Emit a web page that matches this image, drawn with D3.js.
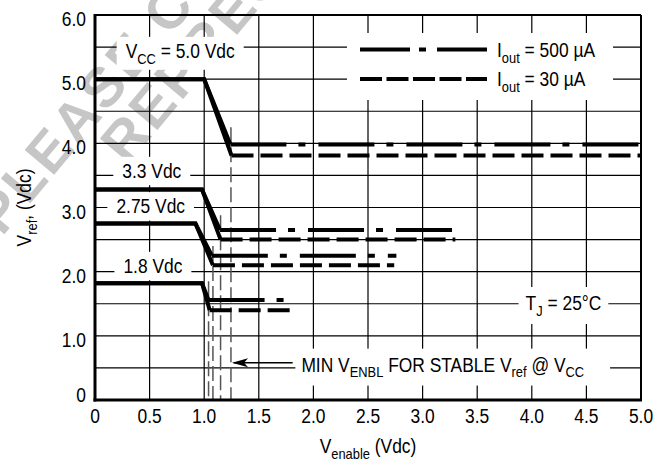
<!DOCTYPE html>
<html>
<head>
<meta charset="utf-8">
<script src="https://cdn.jsdelivr.net/npm/d3@7"></script>
<style>
  html, body { margin: 0; padding: 0; background: #fff; }
  svg { display: block; }
</style>
</head>
<body>
<div id="chart"></div>
<script>
const WIDTH = 655;
const HEIGHT = 462;
const FONT = '"Liberation Sans", Arial, sans-serif';
const SX = 0.87; // condensed look
const FS = 20;

// tick labels
const xTicks = [0, 0.5, 1.0, 1.5, 2.0, 2.5, 3.0, 3.5, 4.0, 4.5, 5.0];
const xTickLabels = ['0', '0.5', '1.0', '1.5', '2.0', '2.5', '3.0', '3.5', '4.0', '4.5', '5.0'];
const yTicks = [0, 1, 2, 3, 4, 5, 6];
const yTickLabels = ['0', '1.0', '2.0', '3.0', '4.0', '5.0', '6.0'];

// curves: [Venable, Vref]
const vcc50_500 = [[0, 5.0], [1.0, 5.0], [1.24, 3.98], [5.0, 3.98]];
const vcc50_30 = [[0, 5.0], [1.0, 5.0], [1.25, 3.81], [5.0, 3.81]];
const vcc33_500 = [[0, 3.28], [0.98, 3.28], [1.145, 2.65], [3.27, 2.65]];
const vcc33_30 = [[0, 3.28], [0.98, 3.28], [1.15, 2.5], [3.3, 2.5]];
const vcc275_500 = [[0, 2.75], [0.92, 2.75], [1.07, 2.25], [2.76, 2.25]];
const vcc275_30 = [[0, 2.75], [0.92, 2.75], [1.08, 2.1], [2.74, 2.1]];
const vcc18_500 = [[0, 1.82], [0.98, 1.82], [1.04, 1.56], [1.76, 1.56]];
const vcc18_30 = [[0, 1.82], [0.98, 1.82], [1.05, 1.4], [1.79, 1.4]];

const curves500 = [vcc50_500, vcc33_500, vcc275_500, vcc18_500];
const curves30 = [vcc50_30, vcc33_30, vcc275_30, vcc18_30];

// minimum enable markers (gray dashed verticals)
const minEnableX = [1.04, 1.08, 1.15, 1.245];
const minEnableTop = [1.85, 2.4, 2.88, 4.25];

const vccLabels = [
  [{ t: 'V' }, { t: 'CC', sub: true }, { t: ' = 5.0 Vdc' }],
  [{ t: '3.3 Vdc' }],
  [{ t: '2.75 Vdc' }],
  [{ t: '1.8 Vdc' }],
];
const vccLabelX = [0.78, 0.52, 0.51, 0.53];
const vccLabelY = [5.33, 3.46, 2.91, 1.98];

const legendLabels = [
  [{ t: 'I' }, { t: 'out', sub: true }, { t: ' = 500 \u00b5A' }],
  [{ t: 'I' }, { t: 'out', sub: true }, { t: ' = 30 \u00b5A' }],
];

const margin = { left: 95, right: 14, top: 15, bottom: 62 };

const x = d3.scaleLinear().domain([0, 5]).range([margin.left, WIDTH - margin.right]);
const y = d3.scaleLinear().domain([0, 6]).range([HEIGHT - margin.bottom, margin.top]);

const svg = d3.select('#chart')
  .append('svg')
  .attr('width', WIDTH)
  .attr('height', HEIGHT)
  .attr('font-family', FONT);

svg.append('rect').attr('width', WIDTH).attr('height', HEIGHT).attr('fill', '#fff');

// watermark
const wm = svg.append('g').attr('fill', '#c6c6c6')
  .attr('font-weight', 'bold').attr('font-size', 56).attr('letter-spacing', 3);
wm.append('text').attr('transform', 'translate(2,237) rotate(-50)').text('PLEASE CONTACT');
wm.append('text').attr('transform', 'translate(127,166) rotate(-50)').text('REPRESENTATIVE');

// grid
const grid = svg.append('g').attr('stroke', '#000').attr('stroke-width', 1.2);
grid.selectAll('line.v')
  .data(d3.range(0.5, 5, 0.5))
  .join('line')
  .attr('class', 'v')
  .attr('x1', d => x(d)).attr('x2', d => x(d))
  .attr('y1', y(0)).attr('y2', y(6));
grid.selectAll('line.h')
  .data(d3.range(0.5, 6, 0.5))
  .join('line')
  .attr('class', 'h')
  .attr('x1', x(0)).attr('x2', x(5))
  .attr('y1', d => y(d)).attr('y2', d => y(d));

// text with subscripts, squeezed horizontally
function richText(parent, px, py, parts, size, anchor, extra) {
  const g = parent.append('g')
    .attr('transform', `translate(${px},${py})${extra || ''} scale(${SX},1)`);
  const t = g.append('text')
    .attr('font-size', size)
    .attr('text-anchor', anchor || 'start');
  let shift = 0;
  parts.forEach(p => {
    const target = p.sub ? size * 0.28 : 0;
    const span = t.append('tspan').attr('dy', target - shift).text(p.t);
    if (p.sub) span.attr('font-size', size * 0.74);
    shift = target;
  });
  return { g, t };
}

function boxedText(parent, px, py, parts, size, anchor, padX, padY, padRight) {
  const { g, t } = richText(parent, px, py, parts, size, anchor);
  const b = t.node().getBBox();
  const pr = padRight != null ? padRight : padX;
  g.insert('rect', 'text').attr('fill', '#fff')
    .attr('x', b.x - padX / SX).attr('y', b.y - padY)
    .attr('width', b.width + (padX + pr) / SX)
    .attr('height', b.height + 2 * padY);
  return g;
}

// Vcc labels
const labels = svg.append('g');
vccLabels.forEach((parts, i) => {
  boxedText(labels, x(vccLabelX[i]), y(vccLabelY[i]), parts, FS, 'middle', 9, 3);
});

// T_J label
boxedText(labels, x(4.29), y(1.4), [{ t: 'T' }, { t: 'J', sub: true }, { t: ' = 25\u00b0C' }], FS, 'middle', 7, 5);

// annotation
boxedText(labels, x(1.89), y(0.44),
  [{ t: 'MIN V' }, { t: 'ENBL', sub: true }, { t: ' FOR STABLE V' }, { t: 'ref', sub: true }, { t: ' @ V' }, { t: 'CC', sub: true }],
  FS, 'start', 6, 5, 26);

// legend
const legend = svg.append('g');
legend.append('rect').attr('x', 347).attr('y', 33).attr('width', 266).attr('height', 67).attr('fill', '#fff');
legend.append('line').attr('x1', 360).attr('x2', 487).attr('y1', 49.5).attr('y2', 49.5)
  .attr('stroke', '#000').attr('stroke-width', 4).attr('stroke-dasharray', '50,9,7,11');
legend.append('line').attr('x1', 360).attr('x2', 487).attr('y1', 79).attr('y2', 79)
  .attr('stroke', '#000').attr('stroke-width', 4).attr('stroke-dasharray', '22,4.5');
legendLabels.forEach((parts, i) => {
  richText(legend, 497, 57 + i * 29, parts, FS, 'start');
});

// min enable gray dashed verticals
svg.append('g')
  .selectAll('line')
  .data(minEnableX)
  .join('line')
  .attr('x1', d => x(d)).attr('x2', d => x(d))
  .attr('y1', (d, i) => y(minEnableTop[i])).attr('y2', y(0))
  .attr('stroke', '#555').attr('stroke-width', 1.5)
  .attr('stroke-dasharray', '15,5');

// curves
const line = d3.line().x(d => x(d[0])).y(d => y(d[1]));
const curveG = svg.append('g').attr('fill', 'none').attr('stroke', '#000').attr('stroke-width', 4);
[...curves500, ...curves30].forEach(c => {
  curveG.append('path').attr('d', line(c.slice(0, 3)));
});
curves500.forEach(c => {
  curveG.append('path').attr('d', line(c.slice(2))).attr('stroke-dasharray', '56,12,7,13');
});
curves30.forEach(c => {
  curveG.append('path').attr('d', line(c.slice(2))).attr('stroke-dasharray', '22,7');
});

// frame
const frame = svg.append('g').attr('stroke', '#000');
frame.append('line').attr('x1', x(0)).attr('x2', x(5)).attr('y1', y(6)).attr('y2', y(6)).attr('stroke-width', 2);
frame.append('line').attr('x1', x(5)).attr('x2', x(5)).attr('y1', y(6)).attr('y2', y(0)).attr('stroke-width', 2);
frame.append('line').attr('x1', x(0)).attr('x2', x(0)).attr('y1', y(6) - 1).attr('y2', y(0) + 1.5).attr('stroke-width', 3);
frame.append('line').attr('x1', x(0) - 1.5).attr('x2', x(5) + 1).attr('y1', y(0)).attr('y2', y(0)).attr('stroke-width', 3);

// arrow
const arrowY = y(0.58);
svg.append('line').attr('x1', x(1.81)).attr('x2', x(1.27)).attr('y1', arrowY).attr('y2', arrowY)
  .attr('stroke', '#000').attr('stroke-width', 1.5);
const tipX = x(1.255);
svg.append('path')
  .attr('d', `M${tipX},${arrowY} L${tipX + 16},${arrowY - 4.5} L${tipX + 12},${arrowY} L${tipX + 16},${arrowY + 4.5} Z`)
  .attr('fill', '#000');

// tick labels
const xt = svg.append('g');
xTicks.forEach((d, i) => richText(xt, x(d), y(0) + 23, [{ t: xTickLabels[i] }], FS, 'middle'));

const yt = svg.append('g');
yTicks.forEach((d, i) => richText(yt, x(0) - 9, Math.min(y(d) + 11, y(0) + 2), [{ t: yTickLabels[i] }], FS, 'end'));

// axis titles
richText(svg, (x(0) + x(5)) / 2, 453, [{ t: 'V' }, { t: 'enable', sub: true }, { t: ' (Vdc)' }], FS, 'middle');
richText(svg, 31, y(3.0), [{ t: 'V' }, { t: 'ref', sub: true }, { t: ', (Vdc)' }], FS, 'middle', ' rotate(-90)');
</script>
</body>
</html>
